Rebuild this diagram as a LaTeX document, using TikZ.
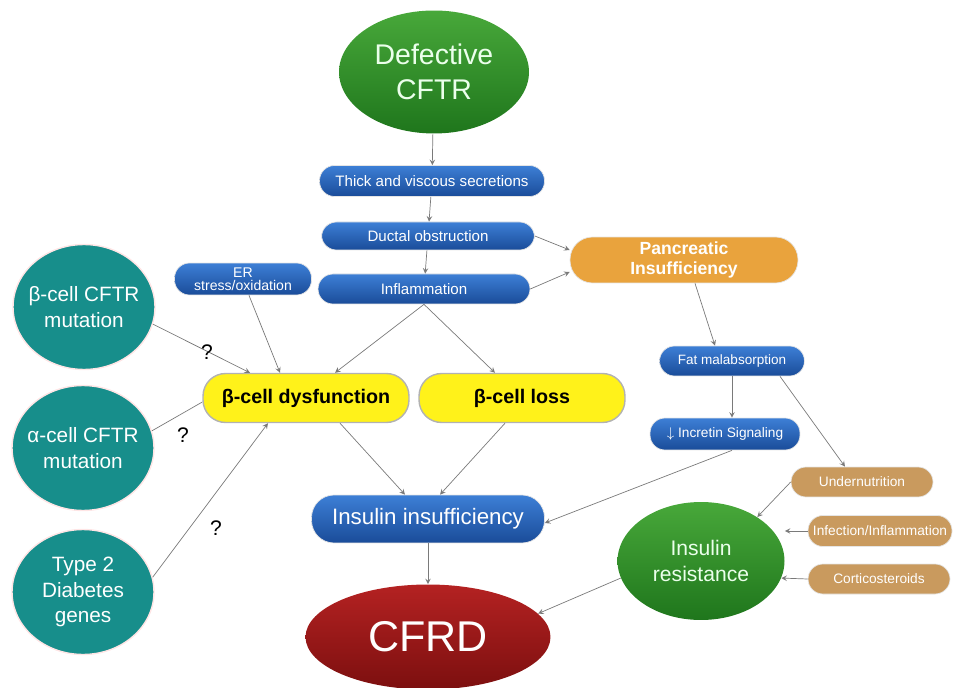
\documentclass[tikz,border=0pt]{standalone}
\usepackage{fontspec}
\setmainfont{Liberation Sans}
\usepackage{tikz}
\usetikzlibrary{positioning, shapes.geometric}

\definecolor{bluetop}{HTML}{3D7FD6}
\definecolor{bluebot}{HTML}{1A4C99}
\definecolor{greentop}{HTML}{48A83A}
\definecolor{greenbot}{HTML}{1F761C}
\definecolor{tealfill}{HTML}{178E8B}
\definecolor{yellowfill}{HTML}{FFF21A}
\definecolor{orangefill}{HTML}{E9A33D}
\definecolor{tanfill}{HTML}{C99A5E}
\definecolor{redtop}{HTML}{B42222}
\definecolor{redbot}{HTML}{7C0F0F}
\definecolor{linkgray}{HTML}{7A7A7A}

\begin{document}
\begin{tikzpicture}[>=stealth, x=0.02cm, y=-0.02cm,
    bluebox/.style={rectangle, rounded corners=0.3cm, top color=bluetop, bottom color=bluebot,
      draw=white!80!gray, thin, text=white, inner sep=0pt, align=center, font=\fontsize{8.6}{10}\selectfont},
    yellowbox/.style={rectangle, rounded corners=0.45cm, fill=yellowfill, draw=gray!60, thick,
      minimum width=4.12cm, minimum height=0.98cm, inner sep=0pt, font=\fontsize{11.2}{13}\bfseries\selectfont},
    tanbox/.style={rectangle, rounded corners=0.3cm, fill=tanfill, draw=white!80!gray, thin,
      minimum width=2.84cm, minimum height=0.6cm, inner sep=0pt, text=white, font=\fontsize{7.8}{9}\selectfont},
    tealcircle/.style={ellipse, fill=tealfill, draw=red!10, thick, minimum width=2.84cm,
      minimum height=2.5cm, inner xsep=-0.26cm, inner ysep=0pt, text=white, align=center,
      font=\fontsize{11.8}{14.5}\selectfont},
    bigoval/.style={ellipse, inner sep=0pt, text=white!92!green, align=center},
    link/.style={draw=linkgray, thin},
    qmark/.style={font=\fontsize{12}{14}\selectfont}]

      % Fix the picture size
      \useasboundingbox (0,0) rectangle (955,688);

      % Draw the main chain
      \node[bigoval, top color=greentop, bottom color=greenbot, minimum width=3.8cm,
        minimum height=2.46cm, font=\fontsize{16.2}{20}\selectfont] (cftr) at (434,72) {Defective\\CFTR};
      \node[bluebox, minimum width=4.5cm, minimum height=0.62cm] (thick) at (432,181)
        {Thick and viscous secretions};
      \node[bluebox, minimum width=4.26cm, minimum height=0.56cm] (duct) at (428,236)
        {Ductal obstruction};
      \node[bluebox, minimum width=4.24cm, minimum height=0.6cm] (inflam) at (424,289)
        {Inflammation};
      \node[bluebox, minimum width=2.74cm, minimum height=0.64cm,
        font=\fontsize{8}{7.6}\selectfont] (er) at (243,279) {ER\\stress/oxidation};

      % Draw the pancreatic branch
      \node[rectangle, rounded corners=0.45cm, fill=orangefill, draw=white!80!gray, thin,
        minimum width=4.56cm, minimum height=0.92cm, inner sep=0pt, text=white, align=center,
        font=\fontsize{10}{11.5}\bfseries\selectfont] (panc) at (684,260) {Pancreatic\\Insufficiency};
      \node[bluebox, minimum width=2.9cm, minimum height=0.6cm, font=\fontsize{7.7}{9}\selectfont]
        (fat) at (732,361) {Fat malabsorption};
      \node[bluebox, minimum width=3.0cm, minimum height=0.64cm, font=\fontsize{7.8}{9}\selectfont]
        (incr) at (725,434) {$\downarrow$ Incretin Signaling};

      % Draw the genetic factors
      \node[tealcircle] (bcftr) at (84,307) {β-cell CFTR\\mutation};
      \node[tealcircle] (acftr) at (83,448) {α-cell CFTR\\mutation};
      \node[tealcircle] (t2d) at (83,592) {Type 2\\Diabetes\\genes};

      % Draw the beta-cell boxes
      \node[yellowbox] (dysf) at (306,398) {β-cell dysfunction};
      \node[yellowbox] (loss) at (522,398) {β-cell loss};

      % Draw the outcome nodes
      \node[bluebox, minimum width=4.66cm, minimum height=0.96cm, rounded corners=0.45cm,
        font=\fontsize{12.7}{14}\selectfont] (ins) at (428,519) {Insulin insufficiency};
      \node[bigoval, top color=redtop, bottom color=redbot, minimum width=4.9cm, text=white,
        minimum height=2.1cm, font=\fontsize{24.5}{28}\selectfont] (cfrd) at (428,637) {CFRD};

      % Draw the insulin resistance group
      \node[bigoval, top color=greentop, bottom color=greenbot, minimum width=3.34cm,
        minimum height=2.36cm, font=\fontsize{12}{15}\selectfont] (insres) at (701,561)
        {Insulin\\resistance};
      \node[tanbox] (undern) at (862,482) {Undernutrition};
      \node[tanbox, minimum width=2.88cm, minimum height=0.62cm] (infect) at (880,531)
        {Infection/Inflammation};
      \node[tanbox] (cortic) at (879,579) {Corticosteroids};

      % Draw the connectors
      \draw[link, ->] (cftr) -- (thick);
      \draw[link, ->] (thick) -- (duct);
      \draw[link, ->] (duct) -- (inflam);
      \draw[link, ->] (duct.east) -- ([yshift=0.2cm]panc.west);
      \draw[link, ->] (inflam.east) -- ([yshift=-0.24cm]panc.west);
      \draw[link, ->] (inflam.south) -- ([xshift=0.58cm]dysf.north);
      \draw[link, ->] (inflam.south) -- ([xshift=-0.54cm]loss.north);
      \draw[link, ->] ([xshift=0.12cm]er.south) -- ([xshift=-0.52cm]dysf.north);
      \draw[link, ->] (bcftr.-14) -- ([xshift=-1.12cm]dysf.north);
      \draw[link] (acftr.14) -- ([yshift=-0.08cm]dysf.west);
      \draw[link, ->] (t2d.12) -- ([xshift=-0.76cm]dysf.south);
      \draw[link, ->] ([xshift=0.68cm]dysf.south) -- ([xshift=-0.46cm]ins.north);
      \draw[link, ->] ([xshift=-0.34cm]loss.south) -- ([xshift=0.24cm]ins.north);
      \draw[link, ->] (ins) -- (cfrd);
      \draw[link, ->] ([xshift=0.22cm]panc.south) -- ([xshift=-0.34cm]fat.north);
      \draw[link, ->] (fat.south) -- (fat.south |- incr.north);
      \draw[link, ->] ([xshift=0.96cm]fat.south) -- ([xshift=-0.34cm]undern.north);
      \draw[link, ->] ([xshift=0.14cm]incr.south) -- ([yshift=-0.08cm]ins.east);
      \draw[link, ->] (undern.west) -- (insres.38);
      \draw[link, ->] (infect.west) -- (insres.east |- infect.west);
      \draw[link, ->] (cortic.west) -- (insres.-12);
      \draw[link, ->] (insres.192) -- (cfrd.12);

      % Draw the labels
      \node[qmark] (q1) at (207,352) {?};
      \node[qmark] (q2) at (183,435) {?};
      \node[qmark] (q3) at (216,528) {?};
    \end{tikzpicture}
\end{document}
